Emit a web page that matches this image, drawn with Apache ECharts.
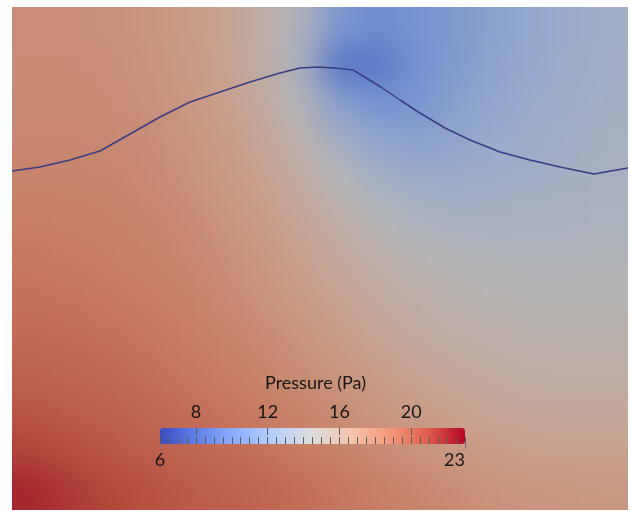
<!DOCTYPE html>
<html>
<head>
<meta charset="utf-8">
<script src="https://cdn.jsdelivr.net/npm/echarts@6/dist/echarts.min.js"></script>
<style>
html, body { margin: 0; padding: 0; background: #fff; overflow: hidden; width: 631px; height: 511px; }
/* chart is 40px bigger on every side so the blurred field has room at its edges */
#main { position: absolute; left: -40px; top: -40px; width: 711px; height: 591px; }
/* zlevel 0 holds only the field: soften the cell steps, then cut it back to the field box */
#main canvas:nth-of-type(1) { filter: blur(15px); clip-path: inset(47px 43px 41px 52px); }
</style>
</head>
<body>
<div id="main"></div>
<script>
// field sample positions (mm), columns left->right, rows top->bottom
var colX = ['1.9', '5.8', '9.6', '13.5', '17.3', '21.2', '25.0', '28.9', '32.7', '36.6', '40.4', '44.3', '48.1', '52.0', '55.8', '59.7'];
var rowY = ['48.4', '44.5', '40.6', '36.8', '32.9', '29.0', '25.2', '21.3', '17.4', '13.5', '9.7', '5.8', '1.9'];

// pressure (Pa), one row per rowY
var pressure = [
	[17.8, 17.8, 17.7, 17.5, 17.0, 16.4, 15.4, 13.9, 10.8, 10.0, 10.5, 11.0, 11.6, 12.1, 12.6, 13.0],
	[17.9, 17.9, 17.8, 17.6, 17.1, 16.5, 15.5, 13.6, 8.8, 8.9, 10.3, 11.1, 11.7, 12.2, 12.7, 13.1],
	[18.0, 18.0, 17.9, 17.7, 17.3, 16.7, 15.8, 14.3, 11.5, 10.4, 10.7, 11.4, 12.0, 12.5, 12.9, 13.2],
	[18.2, 18.2, 18.1, 17.9, 17.5, 17.0, 16.2, 15.1, 13.3, 12.0, 11.6, 11.9, 12.4, 12.8, 13.1, 13.4],
	[18.4, 18.4, 18.3, 18.1, 17.7, 17.2, 16.6, 15.7, 14.5, 13.4, 12.8, 12.7, 12.9, 13.1, 13.3, 13.5],
	[18.7, 18.6, 18.5, 18.3, 18.0, 17.5, 16.9, 16.2, 15.3, 14.4, 13.8, 13.5, 13.5, 13.6, 13.7, 13.8],
	[19.0, 18.9, 18.7, 18.5, 18.2, 17.8, 17.3, 16.6, 15.9, 15.2, 14.7, 14.4, 14.2, 14.1, 14.1, 14.2],
	[19.3, 19.2, 19.0, 18.8, 18.5, 18.1, 17.6, 17.0, 16.4, 15.8, 15.3, 14.9, 14.7, 14.6, 14.6, 14.6],
	[19.6, 19.5, 19.3, 19.1, 18.8, 18.4, 18.0, 17.5, 16.9, 16.3, 15.8, 15.4, 15.2, 15.0, 15.0, 15.0],
	[20.0, 19.9, 19.7, 19.4, 19.1, 18.8, 18.4, 17.9, 17.4, 16.9, 16.4, 16.0, 15.7, 15.5, 15.4, 15.4],
	[20.5, 20.3, 20.1, 19.8, 19.5, 19.2, 18.8, 18.4, 17.9, 17.4, 17.0, 16.6, 16.3, 16.1, 16.0, 16.0],
	[21.2, 20.9, 20.5, 20.2, 19.9, 19.6, 19.3, 18.9, 18.5, 18.0, 17.6, 17.2, 16.9, 16.7, 16.6, 16.6],
	[22.0, 21.5, 21.1, 20.8, 20.4, 20.1, 19.8, 19.5, 19.1, 18.7, 18.3, 17.9, 17.6, 17.4, 17.3, 17.2]
];

// interface curve (mm)
var curveX = [0, 2.8, 5.8, 8.8, 11.8, 14.8, 17.8, 20.8, 23.8, 26.8, 28.8, 30.6, 32.3, 34.1, 36.9, 38.8, 40.8, 43.3, 45.8, 48.8, 51.8, 54.8, 58.2, 61.6];
var curveY = [33.9, 34.3, 35.0, 35.9, 37.6, 39.3, 40.8, 41.8, 42.8, 43.7, 44.2, 44.3, 44.2, 44.0, 42.3, 41.0, 39.7, 38.2, 37.0, 35.8, 35.0, 34.3, 33.6, 34.2];

// colour bar
var barMin = 6;
var barMax = 23;
var barLabels = [8, 12, 16, 20];
var rangeLabels = [6, 23];

var coolWarm = ['#3b4cc0', '#6282ea', '#8db0fe', '#b8d0f9', '#dddddd', '#f5c4ad', '#f49a7b', '#de604d', '#b40426'];
// the field is drawn with lighting, so it looks darker than the bar
var coolWarmShaded = ['#303e9d', '#506bc0', '#7490d0', '#97abcc', '#b5b5b5', '#c9a18e', '#c87e65', '#b64f3f', '#94031f'];

var heatData = [];
for (var r = 0; r < pressure.length; r++) {
	for (var c = 0; c < pressure[r].length; c++) {
		heatData.push([c, r, pressure[r][c]]);
	}
}
var curveData = curveX.map(function(x, i) {
	return [x, curveY[i]];
});

var PAD = 40;      // extra room round the page, see css
var EDGE = 60;     // border cells are stretched out past the field so the blur does not fade there
var txtFont = 'Lato';
var txtColor = '#161616';
var tickColor = '#5a5a5a';

// one field cell; border cells run on outward
function renderCell(params, api) {
	var c = api.value(0);
	var r = api.value(1);
	var p = api.coord([c, r]);
	var s = api.size([1, 1]);
	var x0 = p[0] - s[0] / 2, x1 = p[0] + s[0] / 2;
	var y0 = p[1] - s[1] / 2, y1 = p[1] + s[1] / 2;
	if (c === 0) x0 -= EDGE;
	if (c === colX.length - 1) x1 += EDGE;
	if (r === 0) y0 -= EDGE;
	if (r === rowY.length - 1) y1 += EDGE;
	return {
		type : 'rect',
		shape : { x : x0, y : y0, width : x1 - x0 + 0.6, height : y1 - y0 + 0.6 },
		style : { fill : api.visual('color') }
	};
}

var myChart = echarts.init(document.getElementById('main'));
var option = {
	animation : false,
	backgroundColor : 'transparent',
	title : {
		text : 'Pressure (Pa)',
		left : 'center',
		top : 374 + PAD,
		padding : 0,
		zlevel : 1,
		textStyle : {
			fontFamily : txtFont,
			fontSize : 18,
			fontWeight : 'normal',
			color : txtColor
		}
	},
	grid : [ {
		left : 12 + PAD, top : 7 + PAD, width : 616, height : 503
	}, {
		left : 12 + PAD, top : 7 + PAD, width : 616, height : 503
	}, {
		left : 160 + PAD, top : 428 + PAD, width : 305, height : 16
	} ],
	xAxis : [ {
		type : 'category', gridIndex : 0, data : colX, show : false
	}, {
		type : 'value', gridIndex : 1, min : 0, max : 61.6, show : false
	}, {
		// minor ticks + labels above the bar
		type : 'value', gridIndex : 2, min : barMin, max : barMax, interval : 0.5,
		position : 'top', zlevel : 1, z : 10,
		axisLine : { show : false },
		splitLine : { show : false },
		axisTick : { length : 7, lineStyle : { color : tickColor, width : 1 } },
		axisLabel : {
			customValues : barLabels, margin : 7,
			fontFamily : txtFont, fontSize : 18, color : txtColor
		}
	}, {
		// major ticks running into the bar
		type : 'value', gridIndex : 2, min : barMin, max : barMax,
		position : 'top', zlevel : 1, z : 10,
		axisLine : { show : false },
		splitLine : { show : false },
		axisTick : { inside : true, length : 7, customValues : barLabels, lineStyle : { color : tickColor, width : 1 } },
		axisLabel : { show : false }
	}, {
		// range labels under the bar
		type : 'value', gridIndex : 2, min : barMin, max : barMax,
		position : 'bottom', zlevel : 1, z : 10,
		axisLine : { show : false },
		splitLine : { show : false },
		axisTick : { length : 5, customValues : rangeLabels, lineStyle : { color : '#8a6a8a', width : 1 } },
		axisLabel : {
			customValues : rangeLabels, margin : 7, alignMaxLabel : 'right',
			fontFamily : txtFont, fontSize : 18, color : txtColor
		}
	} ],
	yAxis : [ {
		type : 'category', gridIndex : 0, data : rowY, inverse : true, show : false
	}, {
		type : 'value', gridIndex : 1, min : 0, max : 50.3, show : false
	}, {
		type : 'value', gridIndex : 2, min : 0, max : 1, show : false
	} ],
	visualMap : [ {
		type : 'continuous', seriesIndex : 0, dimension : 2, min : barMin, max : barMax,
		show : false,
		inRange : { color : coolWarmShaded }
	}, {
		type : 'continuous', seriesIndex : 2, min : barMin, max : barMax,
		orient : 'horizontal', left : 160 + PAD, top : 428 + PAD, padding : 0,
		itemWidth : 16, itemHeight : 305,
		calculable : false, hoverLink : false, zlevel : 1,
		inRange : { color : coolWarm }
	} ],
	series : [ {
		type : 'custom', xAxisIndex : 0, yAxisIndex : 0, data : heatData,
		encode : { x : 0, y : 1 },
		renderItem : renderCell,
		zlevel : 0, silent : true
	}, {
		type : 'line', xAxisIndex : 1, yAxisIndex : 1, data : curveData,
		symbol : 'none', silent : true, zlevel : 1,
		lineStyle : { color : '#3b3c84', width : 1.5 }
	}, {
		type : 'scatter', xAxisIndex : 2, yAxisIndex : 2, data : [], zlevel : 1
	} ]
};
myChart.setOption(option);
</script>
</body>
</html>
